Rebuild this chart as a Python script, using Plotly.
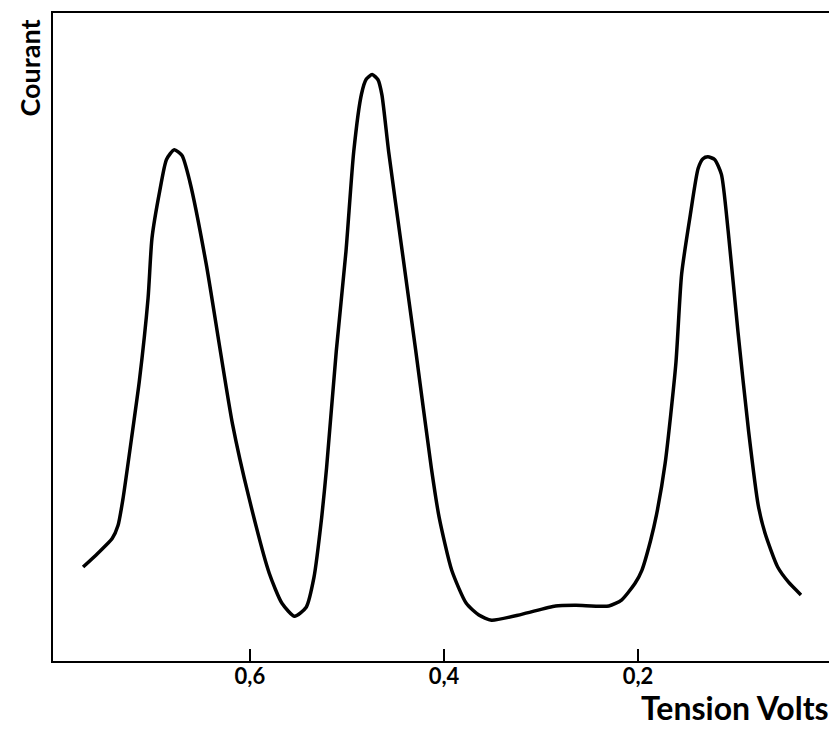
import plotly.graph_objects as go

# Voltage (V) and current (arbitrary units)
tension = [0.772, 0.757, 0.742, 0.736, 0.731, 0.721, 0.714, 0.705, 0.701, 0.693,
           0.686, 0.678, 0.670, 0.662, 0.645, 0.631, 0.618, 0.601, 0.580, 0.567,
           0.554, 0.542, 0.534, 0.526, 0.521, 0.511, 0.501, 0.493, 0.485, 0.480,
           0.474, 0.468, 0.464, 0.457, 0.443, 0.429, 0.413, 0.405, 0.392, 0.377,
           0.364, 0.351, 0.320, 0.285, 0.264, 0.230, 0.217, 0.203, 0.196, 0.187,
           0.181, 0.172, 0.161, 0.155, 0.146, 0.138, 0.133, 0.128, 0.121, 0.114,
           0.107, 0.097, 0.086, 0.076, 0.069, 0.056, 0.045, 0.032]
courant = [14.5, 16.6, 18.9, 20.9, 24.9, 35.5, 43.2, 56.0, 65.2, 72.5,
           77.4, 78.9, 78.0, 74.0, 61.2, 48.3, 36.6, 25.2, 13.5, 8.9,
           6.9, 8.3, 12.9, 22.2, 29.8, 47.8, 63.2, 78.6, 87.5, 89.8,
           90.5, 89.7, 87.4, 78.6, 63.2, 47.8, 29.8, 22.2, 14.0, 8.9,
           7.1, 6.3, 7.2, 8.5, 8.6, 8.5, 9.4, 12.0, 14.0, 18.6,
           22.5, 30.5, 45.8, 59.7, 68.9, 76.0, 77.5, 77.8, 77.4, 75.1,
           66.3, 50.9, 35.5, 24.0, 19.7, 14.5, 12.2, 10.2]

tick_vals = [0.6, 0.4, 0.2]
tick_text = ["0,6", "0,4", "0,2"]

FONT = "Lato"

fig = go.Figure()
fig.add_trace(go.Scatter(
    x=tension, y=courant, mode="lines",
    line=dict(color="black", width=3.5, shape="spline", smoothing=0.6),
    hoverinfo="skip", showlegend=False,
))

fig.update_layout(
    width=829, height=721,
    margin=dict(l=45, r=3, t=3, b=68),
    paper_bgcolor="white", plot_bgcolor="white",
    xaxis=dict(
        range=[0.803, 0.0], showgrid=False, zeroline=False,
        showline=True, linecolor="black", linewidth=2, mirror=True,
        tickmode="array", tickvals=tick_vals, ticktext=tick_text,
        ticks="inside", ticklen=12, tickwidth=2, tickcolor="black",
        ticklabelstandoff=-5,
        tickfont=dict(family=FONT, size=22, color="black", weight="bold"),
    ),
    yaxis=dict(
        range=[0, 100], showgrid=False, zeroline=False,
        showline=True, linecolor="black", linewidth=2, mirror=True,
        showticklabels=False, ticks="",
    ),
    annotations=[
        dict(text="Courant", xref="paper", yref="paper", x=0, y=1,
             xanchor="center", yanchor="top", xshift=-24, yshift=-5,
             textangle=-90, showarrow=False,
             font=dict(family=FONT, size=27, color="black", weight="bold")),
        dict(text="Tension Volts", xref="paper", yref="paper", x=1, y=0,
             xanchor="right", yanchor="top", xshift=-1, yshift=-25,
             showarrow=False,
             font=dict(family=FONT, size=32, color="black", weight="bold")),
    ],
)

fig.write_html("out.html")
